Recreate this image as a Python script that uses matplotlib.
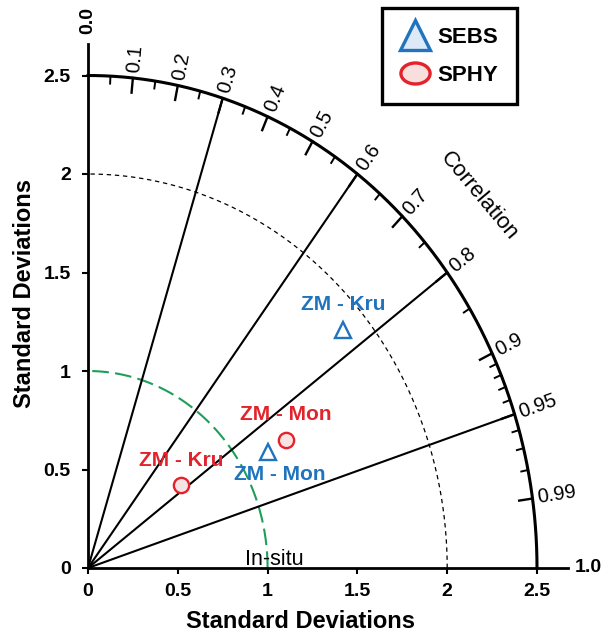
import numpy as np
from matplotlib import pyplot as plt
from matplotlib.lines import Line2D
from matplotlib.path import Path

plt.rcParams['font.family'] = ['Liberation Sans', 'DejaVu Sans']

# data (std along x, std along y)
sebs_names = ['ZM - Kru', 'ZM - Mon']
sebs_x = [1.42, 1.00]
sebs_y = [1.21, 0.59]
sphy_names = ['ZM - Mon', 'ZM - Kru']
sphy_x = [1.10, 0.52]
sphy_y = [0.65, 0.42]

corr_major = [0.1, 0.2, 0.3, 0.4, 0.5, 0.6, 0.7, 0.8, 0.9, 0.95, 0.99]
corr_minor = [0.05, 0.15, 0.25, 0.35, 0.45, 0.55, 0.65, 0.75, 0.85,
              0.91, 0.92, 0.93, 0.94, 0.96, 0.97, 0.98]
corr_lines = [0.3, 0.6, 0.8, 0.95]
std_ticks = [0, 0.5, 1, 1.5, 2, 2.5]
rmax = 2.5

blue = '#1f74bd'
red = '#e3232c'
green = '#1e9e5a'

fig = plt.figure(figsize=(6.03, 6.35), dpi=100)
ax = fig.add_axes([88/603, 67/635, 2.85*179.6/603, 2.85*197/635])
ax.set_xlim(0, 2.85)
ax.set_ylim(0, 2.85)
for s in ['top', 'right']:
    ax.spines[s].set_visible(False)
ax.spines['left'].set_bounds(0, 2.66)
ax.spines['bottom'].set_bounds(0, 2.67)
ax.spines['left'].set_linewidth(2)
ax.spines['bottom'].set_linewidth(2)
ax.set_xticks(std_ticks)
ax.set_yticks(std_ticks)
ax.set_xticklabels(['0', '0.5', '1', '1.5', '2', '2.5'])
ax.set_yticklabels(['0', '0.5', '1', '1.5', '2', '2.5'])
ax.tick_params(width=1.5, length=4.5, labelsize=14)
ax.tick_params(axis='x', pad=6)
ax.tick_params(axis='y', pad=8)
for lab in ax.get_xticklabels() + ax.get_yticklabels():
    lab.set_fontweight('bold')
fig.text(301/603, 1-622/635, 'Standard Deviations', fontsize=17, fontweight='bold',
         ha='center', va='center')
fig.text(25/603, 1-293/635, 'Standard Deviations', fontsize=17, fontweight='bold',
         ha='center', va='center', rotation=90)

th = np.linspace(0, np.pi/2, 300)
ax.plot(rmax*np.cos(th), rmax*np.sin(th), color='k', lw=2.2, clip_on=False)
ax.plot(2*np.cos(th), 2*np.sin(th), color='k', lw=0.9, ls=(0, (3.5, 3)))
ax.plot(np.cos(th), np.sin(th), color=green, lw=1.5, ls=(0, (8, 3)))

for c in corr_lines:
    t = np.arccos(c)
    ax.plot([0, rmax*np.cos(t)], [0, rmax*np.sin(t)], color='k', lw=1.5)

for c in corr_major:
    t = np.arccos(c)
    ax.plot([rmax*np.cos(t), (rmax-0.075)*np.cos(t)],
            [rmax*np.sin(t), (rmax-0.075)*np.sin(t)], color='k', lw=1.7)
for c in corr_minor:
    t = np.arccos(c)
    ax.plot([rmax*np.cos(t), (rmax-0.038)*np.cos(t)],
            [rmax*np.sin(t), (rmax-0.038)*np.sin(t)], color='k', lw=1.4)

def screen_angle(t):
    p0 = ax.transData.transform((0, 0))
    p1 = ax.transData.transform((np.cos(t), np.sin(t)))
    return np.degrees(np.arctan2(p1[1]-p0[1], p1[0]-p0[0]))

for c in corr_major + [0.0, 1.0]:
    t = np.arccos(c)
    end = c in (0.0, 1.0)
    r = 2.71 if end else 2.53
    txt = '%.1f' % c if end else '%g' % c
    ax.text(r*np.cos(t), r*np.sin(t), txt,
            rotation=screen_angle(t), rotation_mode='anchor',
            ha='left', va='center', fontsize=14 if end else 14.5,
            fontweight='bold' if end else 'normal', clip_on=False)

ax.text(2.177, 1.888, 'Correlation', rotation=-50, rotation_mode='anchor',
        ha='center', va='center', fontsize=16, clip_on=False)

ax.text(1.035, 0.015, 'In-situ', ha='center', va='baseline', fontsize=15.5)

ax.plot(sebs_x, sebs_y, ls='none', marker='^', ms=11, mfc='white', mec=blue, mew=1.7)
ax.plot(sphy_x, sphy_y, ls='none', marker='o', ms=11, mfc='#f7e3e3', mec=red, mew=1.7)

sebs_off = [(0.0, 0.13), (0.07, -0.113)]
sphy_off = [(0.0, 0.127), (0.0, 0.128)]
for n, x, y, o in zip(sebs_names, sebs_x, sebs_y, sebs_off):
    ax.text(x+o[0], y+o[1], n, color=blue, fontsize=15, fontweight='bold',
            ha='center', va='center')
for n, x, y, o in zip(sphy_names, sphy_x, sphy_y, sphy_off):
    ax.text(x+o[0], y+o[1], n, color=red, fontsize=15, fontweight='bold',
            ha='center', va='center')

# flattened circle for the legend, as in the picture
ell = Path.unit_circle()
ell = Path(ell.vertices * [1.0, 0.72], ell.codes)

handles = [Line2D([], [], ls='none', marker='^', ms=21, mfc='#dde9f6', mec=blue, mew=2.4),
           Line2D([], [], ls='none', marker=ell, ms=21, mfc='#f9dede', mec=red, mew=2.4)]
leg = fig.legend(handles, ['SEBS', 'SPHY'], loc='upper right',
                 bbox_to_anchor=(517/603, 1-8/635), frameon=True, fancybox=False,
                 prop={'weight': 'bold', 'size': 16}, handletextpad=0.35,
                 borderpad=0.85, labelspacing=0.75, handlelength=1.3, borderaxespad=0)
leg.get_frame().set_edgecolor('k')
leg.get_frame().set_linewidth(2.4)
leg.get_frame().set_alpha(1)

fig.savefig('out.png', dpi=100)
